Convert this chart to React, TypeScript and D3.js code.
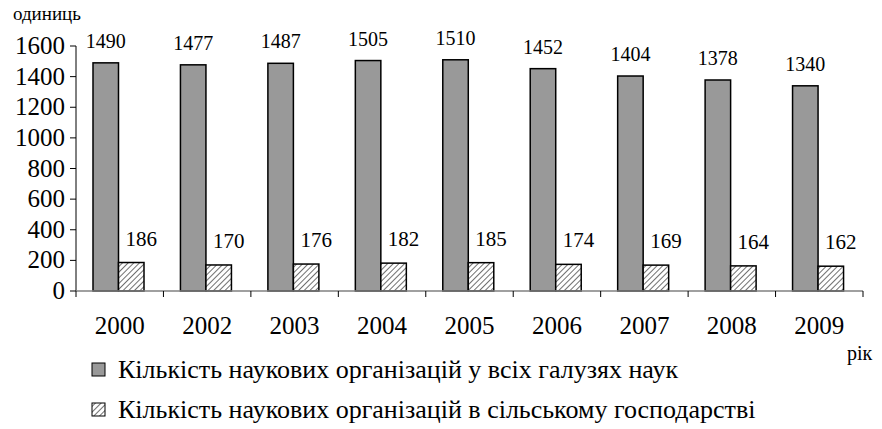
import React from 'react';
import * as d3 from 'd3';

const years = ['2000', '2002', '2003', '2004', '2005', '2006', '2007', '2008', '2009'];
const allSciences = [1490, 1477, 1487, 1505, 1510, 1452, 1404, 1378, 1340];
const agriculture = [186, 170, 176, 182, 185, 174, 169, 164, 162];
const yTicks = [0, 200, 400, 600, 800, 1000, 1200, 1400, 1600];
const legendLabels = [
  'Кількість наукових організацій у всіх галузях наук',
  'Кількість наукових організацій в сільському господарстві',
];

const width = 882, height = 429;
const margin = { top: 46, left: 76, right: 19, bottom: 138 };
const tf = { fontFamily: "'Liberation Serif'" };

const App = () => {
  const x = d3.scaleBand()
    .domain(years)
    .range([margin.left, width - margin.right])
    .padding(0);
  const y = d3.scaleLinear()
    .domain([0, 1600])
    .range([height - margin.bottom, margin.top]);

  const bw = 25.5;
  const offset = 17;
  const y0 = y(0);
  const bx = (yr: string) => (x(yr) as number) + offset;

  return (
    <svg width={width} height={height} style={{ position: 'absolute', left: 0, top: 0, background: '#fff' }}>
      <style>{"text { font-family: 'Liberation Serif', 'Times New Roman', serif; fill: #000; }"}</style>
      <defs>
        <pattern id="hatch2" patternUnits="userSpaceOnUse" width={4} height={4} patternTransform="rotate(45)">
          <rect width={4} height={4} fill="#fff" />
          <line x1={0} y1={0} x2={0} y2={4} stroke="#222" strokeWidth={1.3} />
        </pattern>
      </defs>

      <text x={13} y={20} fontSize={19} style={tf}>одиниць</text>

      {/* y axis */}
      <line x1={margin.left} x2={margin.left} y1={y(1600)} y2={y0} stroke="#000" />
      {yTicks.map(t => (
        <g key={t}>
          <line x1={margin.left - 6} x2={margin.left} y1={y(t)} y2={y(t)} stroke="#000" />
          <text x={65} y={y(t) + 8} textAnchor="end" fontSize={25} style={tf}>{t}</text>
        </g>
      ))}

      {/* bars */}
      {years.map((yr, i) => (
        <g key={yr}>
          <rect x={bx(yr)} y={y(allSciences[i])} width={bw} height={y0 - y(allSciences[i])}
            fill="#999" stroke="#000" strokeWidth={1.5} />
          <rect x={bx(yr) + bw} y={y(agriculture[i])} width={bw} height={y0 - y(agriculture[i])}
            fill="url(#hatch2)" stroke="#000" strokeWidth={1.5} />
          <text x={bx(yr) + bw / 2} y={y(allSciences[i]) - 15} textAnchor="middle" fontSize={20} style={tf}>{allSciences[i]}</text>
          <text x={bx(yr) + bw * 1.5 + 10} y={y(agriculture[i]) - 17} textAnchor="middle" fontSize={21} style={tf}>{agriculture[i]}</text>
        </g>
      ))}

      {/* x axis */}
      <line x1={margin.left} x2={width - margin.right} y1={y0} y2={y0} stroke="#808080" strokeWidth={1.5} />
      {[...years.map(yr => x(yr) as number), width - margin.right].map((p, i) => (
        <line key={i} x1={p} x2={p} y1={y0} y2={y0 + 6} stroke="#000" />
      ))}
      {years.map(yr => (
        <text key={yr} x={(x(yr) as number) + x.bandwidth() / 2} y={334} textAnchor="middle" fontSize={25} style={tf}>{yr}</text>
      ))}
      <text x={847} y={360} fontSize={20} style={tf}>рік</text>

      {/* legend */}
      {legendLabels.map((l, i) => (
        <g key={l}>
          <rect x={92} y={363 + i * 40} width={13} height={13}
            fill={i === 0 ? '#999' : 'url(#hatch2)'} stroke="#000" strokeWidth={1} />
          <text x={118} y={378 + i * 40} fontSize={26} style={tf}>{l}</text>
        </g>
      ))}
    </svg>
  );
};

export default App;
